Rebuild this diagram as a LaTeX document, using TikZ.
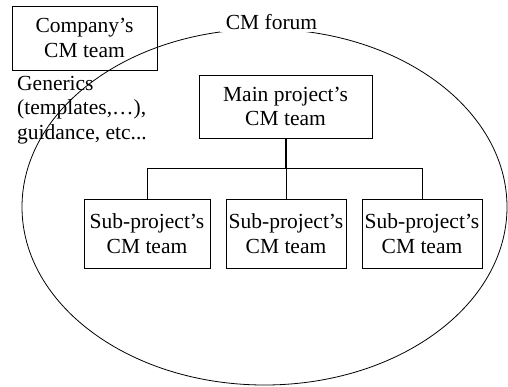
\documentclass[tikz,border=0pt]{standalone}
\usepackage{fontspec}
\setmainfont{Liberation Serif}
\begin{document}
\begin{tikzpicture}[x=1pt,y=-1pt,
  every node/.style={font=\fontsize{21.5}{24.5}\selectfont},
  team/.style={draw, line width=0.9pt, inner sep=0pt, align=center},
  link/.style={line width=0.9pt}]
\useasboundingbox (0,0) rectangle (508,386);

% Company-level team and its generic material
\node[team, minimum width=145pt, minimum height=64pt] (company) at (84.5,38) {Company's\\CM team};
\node[anchor=north west, align=left, inner sep=0pt] (generics) at (17,76)
  {Generics\\(templates,\dots),\\guidance, etc...};

% Project hierarchy
\node[team, minimum width=173pt, minimum height=63pt] (main) at (285.5,106.5) {Main project's\\CM team};
\node[team, minimum width=126pt, minimum height=69pt] (sub1) at (147,233.5) {Sub-project's\\CM team};
\node[team, minimum width=120pt, minimum height=69pt] (sub2) at (286,233.5) {Sub-project's\\CM team};
\node[team, minimum width=120pt, minimum height=69pt] (sub3) at (422,233.5) {Sub-project's\\CM team};

\coordinate (bus) at (286,168);
\coordinate (busL) at (sub1.north |- bus);
\coordinate (busR) at (sub3.north |- bus);
\draw[line width=1.8pt] (main.south -| bus) -- (bus);
\draw[link] (busL) -- (busR);
\draw[link] (busL) -- (sub1.north);
\draw[link] (bus) -- (sub2.north);
\draw[link] (busR) -- (sub3.north);

% The forum enclosing the project teams
\draw[line width=0.8pt] (264.5,207) ellipse [x radius=242.5pt, y radius=178pt];
\node[fill=white, inner xsep=6pt, inner ysep=2pt] (forum) at (271.5,22) {CM forum};
\end{tikzpicture}
\end{document}
